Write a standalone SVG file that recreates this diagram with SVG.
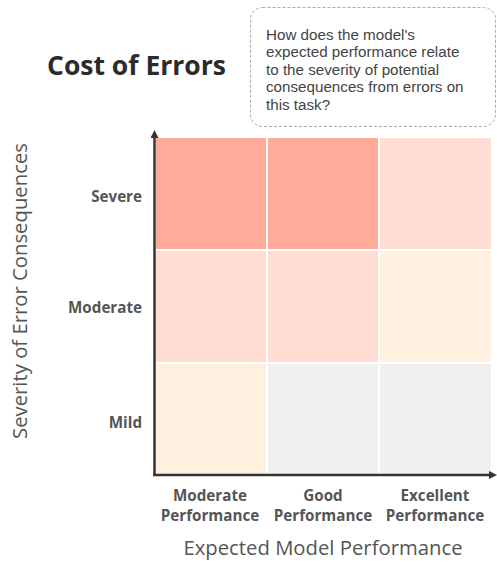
<svg xmlns="http://www.w3.org/2000/svg" width="497" height="563" viewBox="0 0 497 563">
<style>
.t{font-family:"Open Sans","DejaVu Sans",sans-serif}
.title{font-size:26.5px;font-weight:bold;fill:#2b2b2b}
.q{font-family:"Liberation Sans",Arial,sans-serif;font-size:15.2px;fill:#444}
.lab{font-size:15.2px;font-weight:bold;fill:#555}
.ax{font-size:20.3px;fill:#555}
.c1{fill:#ffab9a}.c2{fill:#ffddd5}.c3{fill:#fff0df}.c4{fill:#f0f0f0}
</style>
<defs>
<marker id="ah" markerWidth="8" markerHeight="8" refX="4" refY="4" orient="auto" markerUnits="userSpaceOnUse">
<path d="M0,0 L8,4 L0,8 Z" fill="#333"/>
</marker>
</defs>
<rect width="497" height="563" fill="#fff"/>
<g id="title"><text class="t title" x="47" y="75">Cost of Errors</text></g>
<g id="question">
<rect x="250.5" y="7.5" width="245" height="119" rx="12" fill="#fff" stroke="#aaa" stroke-dasharray="3,2"/>
<text class="q" x="266" y="39.5">How does the model's</text>
<text class="q" x="266" y="57">expected performance relate</text>
<text class="q" x="266" y="74.5">to the severity of potential</text>
<text class="q" x="266" y="92">consequences from errors on</text>
<text class="q" x="266" y="109.5">this task?</text>
</g>
<g id="cells">
<rect id="severe-moderate" class="c1" x="156" y="138" width="110" height="111"/>
<rect id="severe-good" class="c1" x="268" y="138" width="110" height="111"/>
<rect id="severe-excellent" class="c2" x="380" y="138" width="111" height="111"/>
<rect id="moderate-moderate" class="c2" x="156" y="251" width="110" height="111"/>
<rect id="moderate-good" class="c2" x="268" y="251" width="110" height="111"/>
<rect id="moderate-excellent" class="c3" x="380" y="251" width="111" height="111"/>
<rect id="mild-moderate" class="c3" x="156" y="364" width="110" height="110"/>
<rect id="mild-good" class="c4" x="268" y="364" width="110" height="110"/>
<rect id="mild-excellent" class="c4" x="380" y="364" width="111" height="110"/>
</g>
<g id="axes" stroke="#333" stroke-width="2.5" fill="none">
<line x1="154.5" y1="475" x2="154.5" y2="134" marker-end="url(#ah)"/>
<line x1="153" y1="475" x2="493" y2="475" marker-end="url(#ah)"/>
</g>
<g id="row-labels">
<text class="t lab" x="142" y="202" text-anchor="end">Severe</text>
<text class="t lab" x="142" y="313" text-anchor="end">Moderate</text>
<text class="t lab" x="142" y="428" text-anchor="end">Mild</text>
</g>
<g id="col-labels">
<text class="t lab" x="210" y="501" text-anchor="middle">Moderate</text>
<text class="t lab" x="210" y="521" text-anchor="middle">Performance</text>
<text class="t lab" x="323" y="501" text-anchor="middle">Good</text>
<text class="t lab" x="323" y="521" text-anchor="middle">Performance</text>
<text class="t lab" x="435" y="501" text-anchor="middle">Excellent</text>
<text class="t lab" x="435" y="521" text-anchor="middle">Performance</text>
</g>
<g id="axis-labels">
<text class="t ax" x="323" y="555" text-anchor="middle">Expected Model Performance</text>
<text class="t ax" transform="translate(27,291) rotate(-90)" text-anchor="middle">Severity of Error Consequences</text>
</g>
</svg>
